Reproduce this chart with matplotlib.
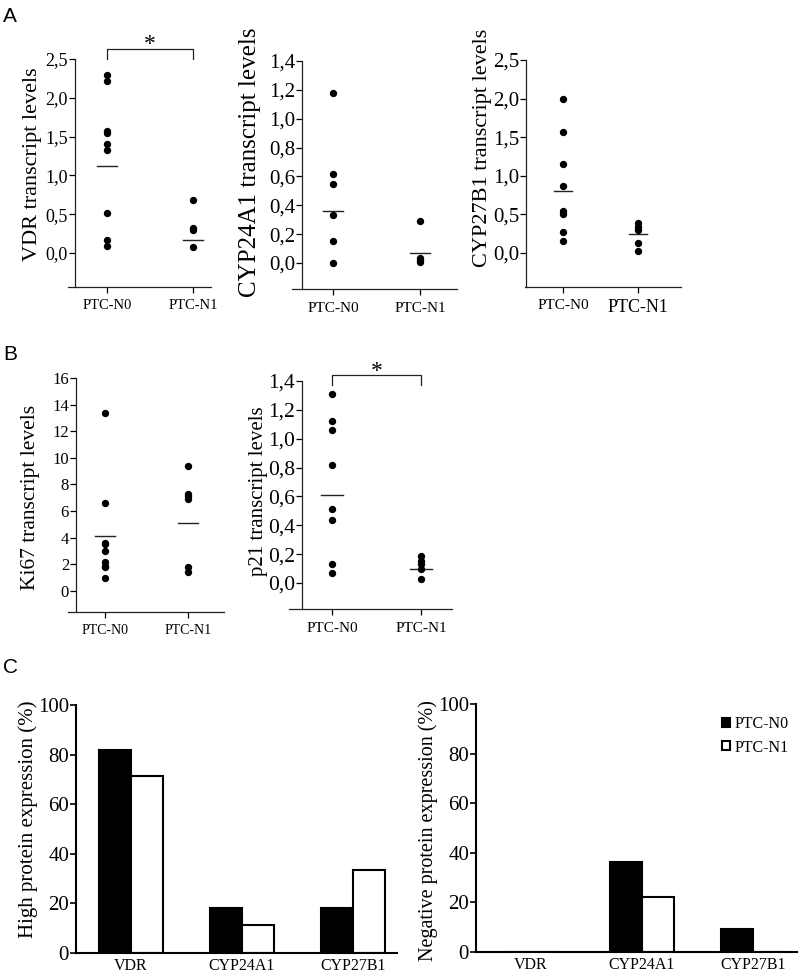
import matplotlib
matplotlib.use('Agg')
import matplotlib.pyplot as plt
from matplotlib.patches import Patch
from matplotlib.ticker import FixedLocator, FuncFormatter

plt.rcParams['font.family'] = ['Liberation Serif', 'DejaVu Serif']

# ---------------- data ----------------
groups = ['PTC-N0', 'PTC-N1']

vdr_n0 = [2.30, 2.21, 1.57, 1.55, 1.40, 1.33, 0.51, 0.16, 0.09]
vdr_n1 = [0.68, 0.32, 0.30, 0.08]
vdr_mean = [1.12, 0.17]

cyp24_n0 = [1.18, 0.62, 0.55, 0.33, 0.155, 0.0]
cyp24_n1 = [0.29, 0.035, 0.02, 0.007]
cyp24_mean = [0.36, 0.07]

cyp27_n0 = [1.99, 1.57, 1.15, 0.87, 0.545, 0.51, 0.27, 0.15]
cyp27_n1 = [0.39, 0.34, 0.30, 0.13, 0.02]
cyp27_mean = [0.80, 0.24]

ki67_n0 = [13.4, 6.6, 3.6, 3.5, 3.0, 2.2, 1.9, 1.8, 1.0]
ki67_n1 = [9.4, 7.3, 7.1, 6.9, 1.8, 1.4]
ki67_mean = [4.16, 5.09]

p21_n0 = [1.31, 1.125, 1.06, 0.82, 0.51, 0.435, 0.13, 0.07]
p21_n1 = [0.19, 0.155, 0.13, 0.10, 0.03]
p21_mean = [0.61, 0.10]

prot_cats = ['VDR', 'CYP24A1', 'CYP27B1']
high_n0 = [81.8, 18.2, 18.2]
high_n1 = [71.4, 11.1, 33.3]
neg_n0 = [0.0, 36.4, 9.1]
neg_n1 = [0.0, 22.2, 0.0]

# ---------------- layout helpers ----------------
W, H = 800, 975
fig = plt.figure(figsize=(W / 100, H / 100), dpi=100)


def add_ax(left, top, right, bottom):
    return fig.add_axes([left / W, 1 - bottom / H, (right - left) / W, (bottom - top) / H])


def comma_fmt(decimals):
    def f(v, pos):
        if decimals == 0:
            return f"{v:.0f}"
        return f"{v:.{decimals}f}".replace('.', ',')
    return FuncFormatter(f)


def scatter_panel(box, xlim, spine_x, ylim, yticks, decimals, n0, n1, means,
                  ytick_size, xtick_sizes):
    ax = add_ax(*box)
    ax.set_xlim(*xlim)
    ax.set_ylim(*ylim)
    for s in ['top', 'right']:
        ax.spines[s].set_visible(False)
    ax.spines['left'].set_position(('data', spine_x))
    for s in ['left', 'bottom']:
        ax.spines[s].set_linewidth(0.9)
        ax.spines[s].set_color('#222222')
    ax.scatter([0] * len(n0), n0, s=28, color='black', zorder=3, linewidths=0)
    ax.scatter([1] * len(n1), n1, s=28, color='black', zorder=3, linewidths=0)
    for i, m in enumerate(means):
        ax.plot([i - 0.12, i + 0.12], [m, m], color='#222222', lw=1.0, zorder=2)
    ax.yaxis.set_major_locator(FixedLocator(yticks))
    ax.yaxis.set_major_formatter(comma_fmt(decimals))
    ax.set_xticks([0, 1])
    ax.set_xticklabels(groups)
    for lab, sz in zip(ax.get_xticklabels(), xtick_sizes):
        lab.set_fontsize(sz)
    ax.tick_params(axis='y', direction='out', length=4, width=0.9,
                   labelsize=ytick_size, pad=1)
    ax.tick_params(axis='x', direction='out', length=4, width=0.9, pad=5)
    return ax


def bracket(ax, y_top, y_drop, y_star, size):
    ax.plot([0, 0, 1, 1], [y_drop, y_top, y_top, y_drop], color='#222222',
            lw=0.9, clip_on=False)
    ax.text(0.5, y_star, '*', ha='center', va='baseline', fontsize=size,
            clip_on=False)


# ---------------- Panel A ----------------
axA1 = scatter_panel((68, 59, 211, 287), (-0.453, 1.209), -0.372, (-0.44, 2.5),
                     [0, 0.5, 1.0, 1.5, 2.0, 2.5], 1, vdr_n0, vdr_n1, vdr_mean,
                     13, [10.5, 10.5])
bracket(axA1, 2.63, 2.5, 2.61, 17)

axA2 = scatter_panel((292, 61, 457, 289), (-0.471, 1.425), -0.356, (-0.18, 1.4),
                     [0, 0.2, 0.4, 0.6, 0.8, 1.0, 1.2, 1.4], 1, cyp24_n0, cyp24_n1,
                     cyp24_mean, 15, [11, 11])

axA3 = scatter_panel((525, 60, 681, 287), (-0.507, 1.573), -0.493, (-0.44, 2.5),
                     [0, 0.5, 1.0, 1.5, 2.0, 2.5], 1, cyp27_n0, cyp27_n1,
                     cyp27_mean, 15, [11, 13])

# ---------------- Panel B ----------------
axB1 = scatter_panel((68, 378, 224, 612), (-0.446, 1.434), -0.349, (-1.58, 16),
                     list(range(0, 17, 2)), 0, ki67_n0, ki67_n1, ki67_mean,
                     12, [10, 10])

axB2 = scatter_panel((289, 381, 452, 609), (-0.483, 1.348), -0.337, (-0.18, 1.4),
                     [0, 0.2, 0.4, 0.6, 0.8, 1.0, 1.2, 1.4], 1, p21_n0, p21_n1,
                     p21_mean, 15.5, [11, 11])
bracket(axB2, 1.44, 1.37, 1.425, 17)

# ---------------- Panel C ----------------
bw = 0.29


def bar_panel(box, v0, v1):
    ax = add_ax(*box)
    x = list(range(len(prot_cats)))
    ax.bar([i - bw / 2 for i in x], v0, width=bw, color='black',
           edgecolor='black', linewidth=1.5, label=groups[0])
    ax.bar([i + bw / 2 for i in x], v1, width=bw, color='white',
           edgecolor='black', linewidth=1.5, label=groups[1])
    ax.set_xlim(-0.495, 2.396)
    ax.set_ylim(0, 100)
    for s in ['top', 'right']:
        ax.spines[s].set_visible(False)
    for s in ['left', 'bottom']:
        ax.spines[s].set_linewidth(1.5)
    ax.set_xticks(x)
    ax.set_xticklabels(prot_cats, fontsize=11.5)
    ax.set_yticks(range(0, 101, 20))
    ax.tick_params(axis='x', length=0, pad=3.5)
    ax.tick_params(axis='y', direction='out', length=4, width=1.2,
                   labelsize=15, pad=1)
    return ax


axC1 = bar_panel((76, 705, 397, 953), high_n0, high_n1)
axC2 = bar_panel((476, 704, 797, 952), neg_n0, neg_n1)
axC2.legend(handles=[Patch(facecolor='black', edgecolor='black', lw=1.5),
                     Patch(facecolor='white', edgecolor='black', lw=1.5)],
            labels=groups, loc='upper left', bbox_to_anchor=(0.766, 0.95),
            frameon=False, fontsize=11.5, handlelength=0.5, handleheight=0.5,
            handletextpad=0.3, labelspacing=0.45, borderaxespad=0,
            borderpad=0)

# ---------------- y labels ----------------
def ylab(x, y, text, size):
    fig.text(x / W, 1 - y / H, text, rotation=90, ha='center', va='center',
             fontsize=size)


ylab(33, 164, 'VDR transcript levels', 16)
ylab(250, 162, 'CYP24A1 transcript levels', 18)
ylab(482, 148, 'CYP27B1 transcript levels', 16)
ylab(31, 497, 'Ki67 transcript levels', 15.5)
ylab(259, 491, 'p21 transcript levels', 15)
ylab(28, 819, 'High protein expression (%)', 15)
ylab(428, 831, 'Negative protein expression (%)', 14.5)

# ---------------- panel letters ----------------
for letter, yb in [('A', 22), ('B', 360), ('C', 673)]:
    fig.text(3 / W, 1 - yb / H, letter, ha='left', va='baseline', fontsize=15,
             family=['Liberation Sans', 'DejaVu Sans'])

fig.savefig('out.png', dpi=100)
